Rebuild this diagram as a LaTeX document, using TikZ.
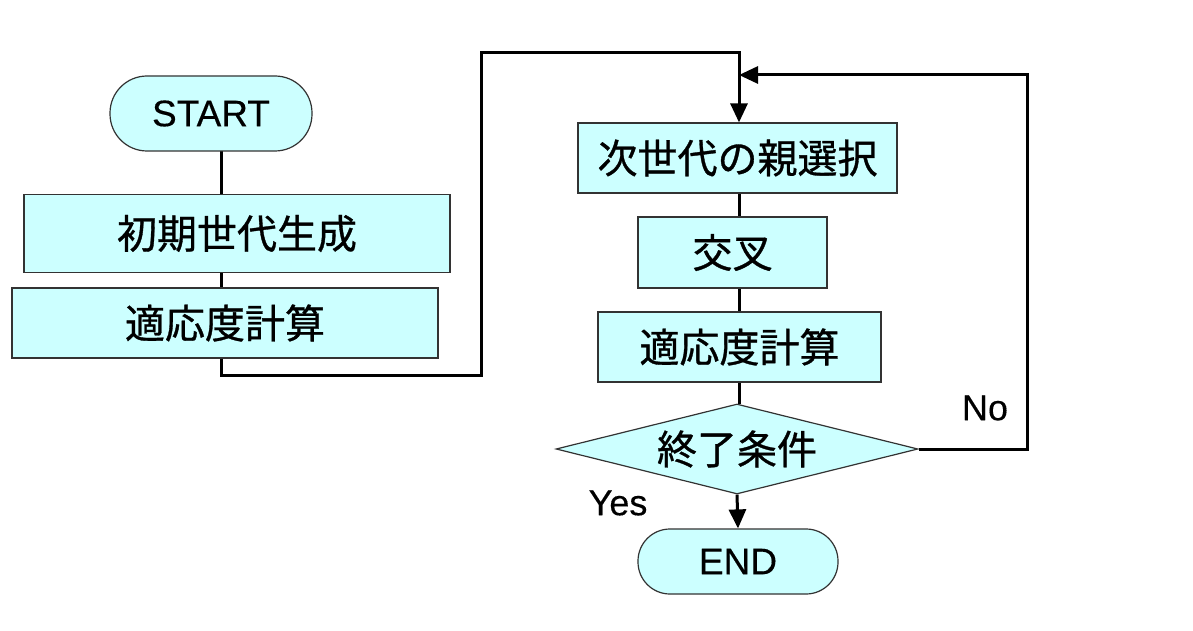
\documentclass[tikz,border=0pt]{standalone}
\usepackage{fontspec}
\setmainfont{Liberation Sans}
\newfontfamily\jp[FakeBold=0.8]{Noto Sans CJK JP}
\newfontfamily\lat[FakeBold=0.3]{Liberation Sans}
\usetikzlibrary{arrows.meta,shapes.geometric}
\definecolor{boxfill}{HTML}{CCFFFF}
\definecolor{edge}{HTML}{333333}
\begin{document}
\begin{tikzpicture}[x=1pt,y=-1pt,
  box/.style={draw=edge,line width=1.2pt,fill=boxfill,rectangle,inner sep=0pt,font=\jp\fontsize{40}{44}\selectfont},
  term/.style={draw=edge,line width=1.2pt,fill=boxfill,rectangle,inner sep=0pt,font=\lat\fontsize{37}{40}\selectfont},
  decision/.style={draw=edge,line width=1.2pt,fill=boxfill,diamond,aspect=4,inner sep=0pt,font=\jp\fontsize{40}{44}\selectfont},
  conn/.style={line width=3pt,line join=miter},
  tip/.style={-{Triangle[length=19pt,width=17pt]}},
  lbl/.style={font=\lat\fontsize{36}{40}\selectfont,inner sep=0pt}]
\useasboundingbox[fill=white] (0,0) rectangle (1193,631);
\coordinate (lx) at (221,0);
\coordinate (cx) at (739,0);
\coordinate (c1) at (481,375);
\coordinate (c2) at (481,53);
\coordinate (c3) at (739,53);
\coordinate (c4) at (1027,449);
\coordinate (c5) at (1027,75);
\coordinate (c6) at (739,75);

% connectors first (under nodes)
\draw[conn] (221,151) -- (221,195);
\draw[conn] (221,272) -- (221,288);
\draw[conn] (739,193) -- (739,217);
\draw[conn] (739,288) -- (739,312);
\draw[conn] (739,382) -- (739,404);

\node[term,rounded corners=37pt,minimum width=202pt,minimum height=75pt] (start) at (211,113.5) {START};
\node[box,minimum width=426pt,minimum height=78pt] (init) at (237,233.5) {初期世代生成};
\node[box,minimum width=426pt,minimum height=70pt] (fit1) at (225,323) {適応度計算};
\node[box,minimum width=319pt,minimum height=70pt] (sel) at (737.5,158) {次世代の親選択};
\node[box,minimum width=189pt,minimum height=71pt] (cross) at (732.5,252.5) {交叉};
\node[box,minimum width=283pt,minimum height=70pt] (fit2) at (739.5,347) {適応度計算};
\node[decision,minimum width=362pt,minimum height=90pt] (cond) at (737,449) {終了条件};
\node[term,rounded corners=32pt,minimum width=200pt,minimum height=65pt] (end) at (738,561.5) {END};
\node[lbl] (yes) at (618,503) {Yes};
\node[lbl] (no) at (985,408) {No};

\draw[conn,tip] (fit1.south -| lx) |- (c1) -- (c2) -- (c3) -- (sel.north -| cx);
\draw[conn,tip] (cond.east) -- (c4) -- (c5) -- (c6);
\draw[conn,tip] (cond.south) -- (end.north);
\end{tikzpicture}
\end{document}
